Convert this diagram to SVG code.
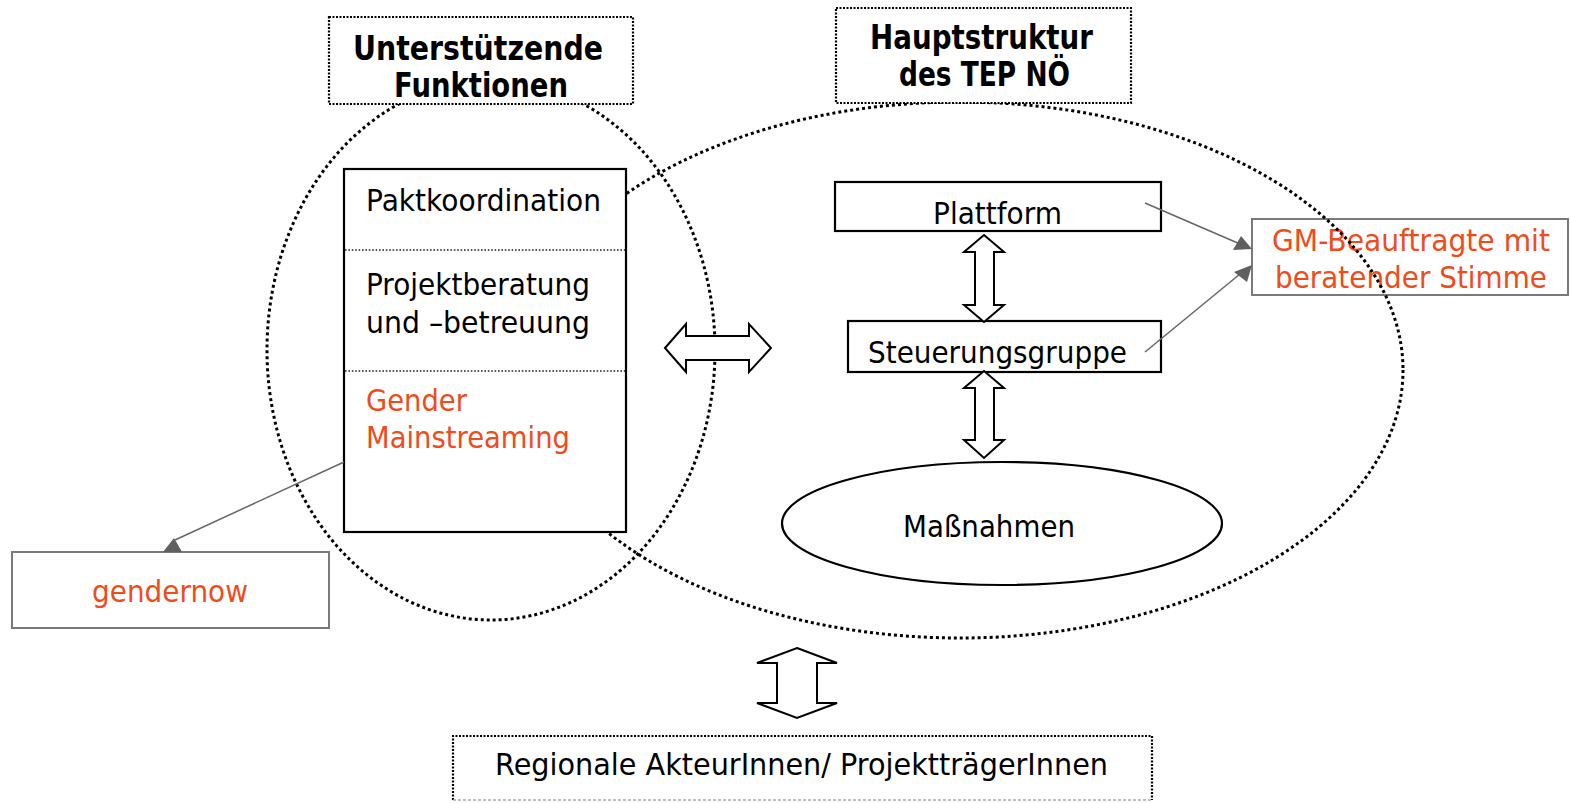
<svg xmlns="http://www.w3.org/2000/svg" width="1570" height="803" viewBox="0 0 1570 803">
<style>
  .big { fill: none; stroke: #000; stroke-width: 3; stroke-dasharray: 3 3; }
  .title { fill: #fff; stroke: #000; stroke-width: 2.2; stroke-dasharray: 2 1.5; }
  .solid { fill: #fff; stroke: #000; stroke-width: 2.2; }
  .gray { fill: #fff; stroke: #7a7a7a; stroke-width: 2; }
  .div { stroke: #222; stroke-width: 1.6; stroke-dasharray: 1.6 1.8; }
  .t { font-family: "DejaVu Sans", Verdana, sans-serif; font-size: 31px; fill: #000; }
  .b { font-family: "DejaVu Sans", Verdana, sans-serif; font-size: 33px; font-weight: bold; fill: #000; }
  .red { fill: #F04B1B; }
  .conn { fill: none; stroke: #666; stroke-width: 1.5; }
  .head { fill: #5f5f5f; stroke: none; }
  .block { fill: #fff; stroke: #000; stroke-width: 2; stroke-linejoin: miter; }
</style>

<g id="gm-beauftragte">
  <rect x="1252" y="219" width="316" height="76" fill="none" stroke="#7a7a7a" stroke-width="2"/>
  <text class="t red" x="1272" y="251" textLength="278" lengthAdjust="spacingAndGlyphs">GM-Beauftragte mit</text>
  <text class="t red" x="1275" y="288" textLength="272" lengthAdjust="spacingAndGlyphs">beratender Stimme</text>
</g>

<g id="unterstuetzende-funktionen-area">
  <ellipse class="big" cx="491" cy="350" rx="224" ry="270"/>
</g>
<g id="hauptstruktur-area">
  <ellipse class="big" cx="960" cy="370" rx="443" ry="268"/>
</g>

<g id="title-unterstuetzende">
  <rect class="title" x="329" y="17" width="304" height="87"/>
  <text class="b" x="353" y="60" textLength="250" lengthAdjust="spacingAndGlyphs">Unterstützende</text>
  <text class="b" x="394" y="97" textLength="174" lengthAdjust="spacingAndGlyphs">Funktionen</text>
</g>

<g id="title-hauptstruktur">
  <rect class="title" x="836" y="8" width="295" height="95"/>
  <text class="b" x="870" y="49" textLength="223" lengthAdjust="spacingAndGlyphs">Hauptstruktur</text>
  <text class="b" x="899" y="86" textLength="171" lengthAdjust="spacingAndGlyphs">des TEP NÖ</text>
</g>

<g id="funktionen-box">
  <rect class="solid" x="344" y="169" width="282" height="363"/>
  <line class="div" x1="345" y1="250" x2="625" y2="250"/>
  <line class="div" x1="345" y1="371" x2="625" y2="371"/>
  <text class="t" x="366" y="211" textLength="235" lengthAdjust="spacingAndGlyphs">Paktkoordination</text>
  <text class="t" x="366" y="295" textLength="224" lengthAdjust="spacingAndGlyphs">Projektberatung</text>
  <text class="t" x="366" y="333" textLength="224" lengthAdjust="spacingAndGlyphs">und –betreuung</text>
  <text class="t red" x="366" y="411" textLength="101" lengthAdjust="spacingAndGlyphs">Gender</text>
  <text class="t red" x="366" y="448" textLength="204" lengthAdjust="spacingAndGlyphs">Mainstreaming</text>
</g>

<g id="plattform">
  <rect class="solid" x="835" y="182" width="326" height="49"/>
  <text class="t" x="933" y="224" textLength="129" lengthAdjust="spacingAndGlyphs">Plattform</text>
</g>

<g id="steuerungsgruppe">
  <rect class="solid" x="848" y="321" width="313" height="51"/>
  <text class="t" x="868" y="363" textLength="259" lengthAdjust="spacingAndGlyphs">Steuerungsgruppe</text>
</g>

<g id="massnahmen">
  <ellipse class="solid" cx="1002" cy="523.5" rx="220" ry="61.5"/>
  <text class="t" x="903" y="537" textLength="172" lengthAdjust="spacingAndGlyphs">Maßnahmen</text>
</g>

<g id="gendernow">
  <rect class="gray" x="12" y="552" width="317" height="76"/>
  <text class="t red" x="92" y="602" textLength="156" lengthAdjust="spacingAndGlyphs">gendernow</text>
</g>

<g id="regionale-akteurinnen">
  <path d="M453 800 V736 H1152 V800" fill="#fff" stroke="#000" stroke-width="2.2" stroke-dasharray="2 1.5"/>
  <line x1="453" y1="800" x2="1152" y2="800" stroke="#aaa" stroke-width="1.5" stroke-dasharray="3 2"/>
  <text class="t" x="495" y="775" textLength="613" lengthAdjust="spacingAndGlyphs">Regionale AkteurInnen/ ProjektträgerInnen</text>
</g>

<g id="connectors">
  <line class="conn" x1="344" y1="462" x2="175" y2="540"/>
  <polygon class="head" points="163,552 182,552 174,538"/>
  <line class="conn" x1="1145" y1="203" x2="1240" y2="244"/>
  <polygon class="head" points="1252,249 1233,250 1241,236"/>
  <line class="conn" x1="1145" y1="352" x2="1240" y2="274"/>
  <polygon class="head" points="1252,265 1247,282 1234,272"/>
  <polygon class="block" points="665,348 686,324 686,336 749,336 749,324 771,348 749,372 749,360 686,360 686,372"/>
  <polygon class="block" points="984,235 1004,252 994,252 994,305 1004,305 984,322 964,305 975,305 975,252 964,252"/>
  <polygon class="block" points="984,371 1004,388 994,388 994,440 1004,440 984,458 964,440 975,440 975,388 964,388"/>
  <polygon class="block" points="797,648 837,663 817,663 817,703 837,703 797,718 757,703 777,703 777,663 757,663"/>
</g>
</svg>
